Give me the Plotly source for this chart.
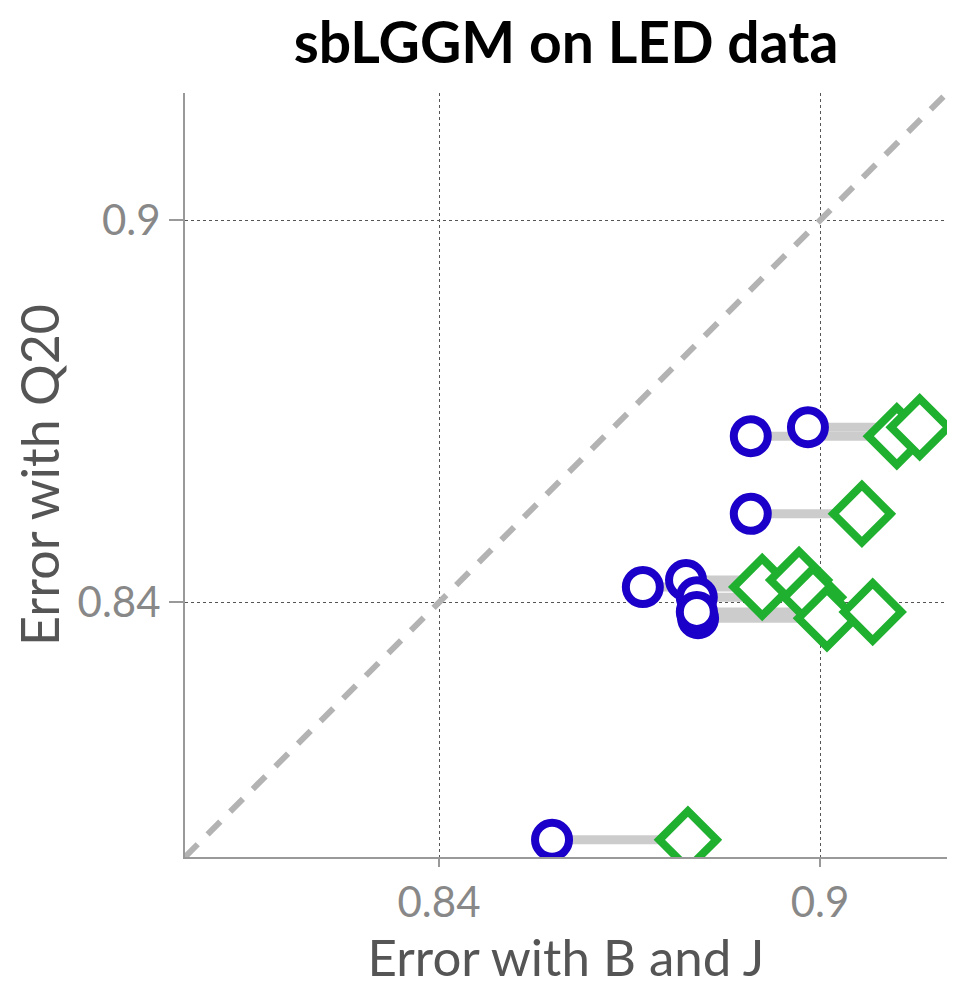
import plotly.graph_objects as go

# Data (error rates)
q20_error = [0.8027, 0.8539, 0.8661, 0.8675, 0.8424, 0.8435, 0.8408, 0.8375, 0.8385]
bj_error_sblggm = [0.8578, 0.8891, 0.8891, 0.8981, 0.8721, 0.8789, 0.8806, 0.8808, 0.8806]
bj_error_other = [0.8792, 0.9066, 0.9121, 0.9157, 0.8909, 0.8967, 0.8989, 0.9011, 0.9083]
diag = [0.80, 0.92]
tick_vals = [0.84, 0.9]
tick_text = ["0.84", "0.9"]

FONT = "Century Gothic, URW Gothic L, Lato, sans-serif"

# connector lines between pairs
lx, ly = [], []
for a, b, y in zip(bj_error_sblggm, bj_error_other, q20_error):
    lx += [a, b, None]
    ly += [y, y, None]

fig = go.Figure()
fig.add_trace(go.Scatter(x=diag, y=diag, mode="lines",
                         line=dict(color="#b3b3b3", width=6, dash="18px,14px"),
                         hoverinfo="skip"))
fig.add_trace(go.Scatter(x=lx, y=ly, mode="lines",
                         line=dict(color="#cccccc", width=9), hoverinfo="skip"))
fig.add_trace(go.Scatter(x=bj_error_other, y=q20_error, mode="markers",
                         marker=dict(symbol="diamond", size=44, color="white",
                                     line=dict(color="#1fb030", width=8))))
fig.add_trace(go.Scatter(x=bj_error_sblggm, y=q20_error, mode="markers",
                         marker=dict(symbol="circle", size=34, color="white",
                                     line=dict(color="#1a00c8", width=8))))

axis_common = dict(
    range=[0.80, 0.92], tickvals=tick_vals, ticktext=tick_text,
    showgrid=True, gridcolor="#555555", gridwidth=1.3, griddash="dot",
    showline=True, linecolor="#999999", linewidth=2,
    ticks="outside", tickcolor="#999999", tickwidth=1.5, automargin=False,
    zeroline=False, tickfont=dict(family=FONT, size=42, color="#888888"),
)

fig.update_layout(
    width=954, height=979,
    margin=dict(l=177, r=15, t=85, b=130),
    paper_bgcolor="white", plot_bgcolor="white",
    showlegend=False,
    title=dict(text="<b>sbLGGM on LED data</b>", x=0.585, xanchor="center",
               y=0.964, yanchor="middle",
               font=dict(family=FONT, size=57, color="black")),
    xaxis=dict(**axis_common, ticklen=8,
               title=dict(text="Error with B and J", standoff=0,
                          font=dict(family=FONT, size=51, color="#555555"))),
    yaxis=dict(**axis_common, ticklen=14,
               title=dict(text="Error with Q20", standoff=24,
                          font=dict(family=FONT, size=52, color="#555555"))),
)

fig.write_html("out.html")
